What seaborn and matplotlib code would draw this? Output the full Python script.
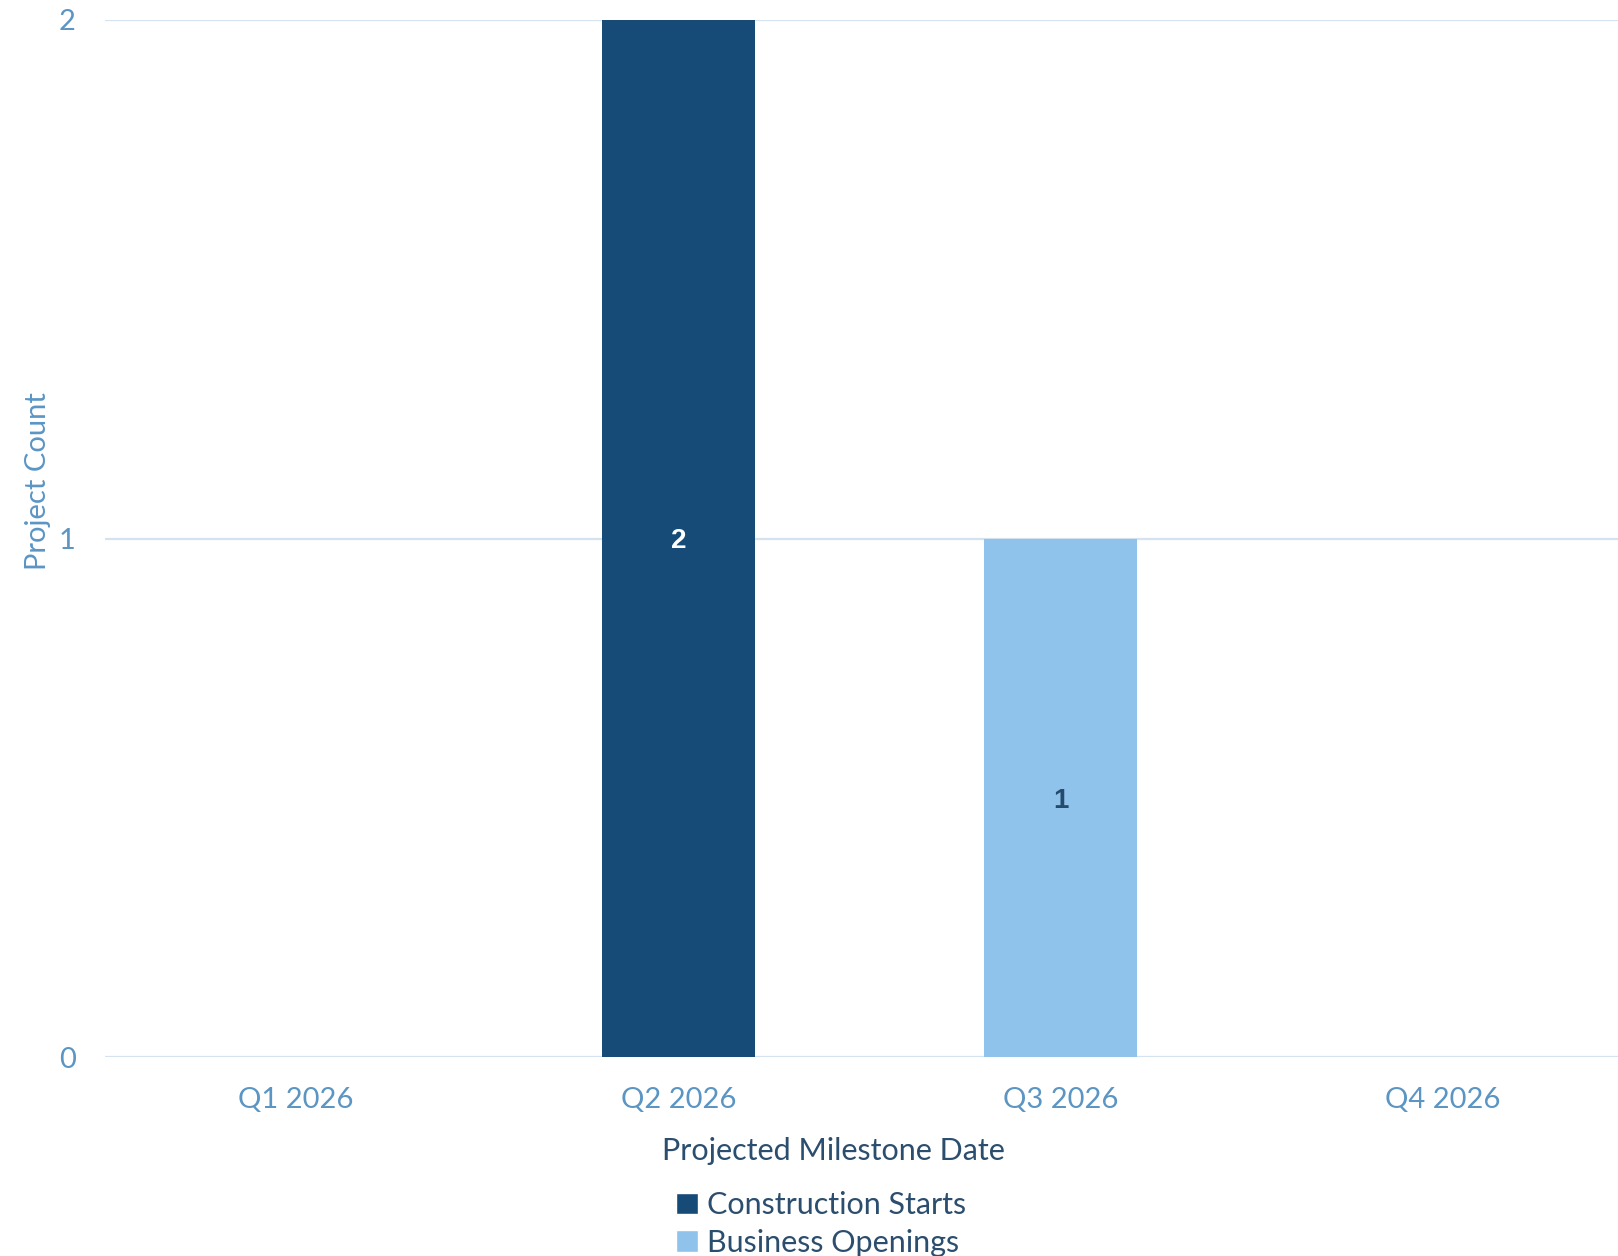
import matplotlib
matplotlib.use("Agg")
import matplotlib.pyplot as plt
import seaborn as sns
import pandas as pd
from matplotlib.patches import Patch

quarters = ["Q1 2026", "Q2 2026", "Q3 2026", "Q4 2026"]
construction_starts = [0, 2, 0, 0]
business_openings = [0, 0, 1, 0]
series_names = ["Construction Starts", "Business Openings"]
y_ticks = [0, 1, 2]

dark_blue = "#164B78"
light_blue = "#8FC3EC"
tick_color = "#5A95C4"
title_color = "#2C4E6E"
grid_color = "#D5E3F1"

sns.set_theme(style="white")
plt.rcParams["font.family"] = ["Lato", "DejaVu Sans"]

df = pd.DataFrame({
    "quarter": quarters * 2,
    "count": construction_starts + business_openings,
    "series": [series_names[0]] * 4 + [series_names[1]] * 4,
})

W, H = 1618, 1256
ax_left, ax_top, ax_bottom, ax_width = 105, 20, 1057, 1529
fig = plt.figure(figsize=(W / 100, H / 100), dpi=100)
ax = fig.add_axes([ax_left / W, 1 - ax_bottom / H, ax_width / W, (ax_bottom - ax_top) / H])

sns.barplot(data=df, x="quarter", y="count", hue="series",
            palette=[dark_blue, light_blue], dodge=False, width=0.40,
            saturation=1, linewidth=0, ax=ax, legend=False)

label_colors = ["white", "#244A6C"]
for cont, col in zip(ax.containers, label_colors):
    labels = [f"{int(v)}" if v > 0 else "" for v in cont.datavalues]
    texts = ax.bar_label(cont, labels=labels, label_type="center", color=col,
                         fontsize=20, fontweight="bold",
                         family=["Liberation Sans", "DejaVu Sans"])
    for t in texts:
        t.set_verticalalignment("center_baseline")

ax.set_ylim(0, 2)
ax.set_yticks(y_ticks)
ax.set_xlim(-0.5, 3.5)
ax.yaxis.grid(True, color=grid_color, linewidth=1.6)
ax.set_axisbelow(True)
for s in ax.spines.values():
    s.set_visible(False)

ax.tick_params(axis="both", length=0, labelsize=21, labelcolor=tick_color)
ax.tick_params(axis="x", pad=21.5)
ax.tick_params(axis="y", pad=21)

ax.set_xlabel("Projected Milestone Date", fontsize=22, color=title_color)
ax.xaxis.set_label_coords((833 - ax_left) / ax_width, -0.077)
ax.set_ylabel("Project Count", fontsize=21, color=tick_color)
ax.yaxis.set_label_coords(-0.035, 0.555)

handles = [Patch(facecolor=dark_blue, label=series_names[0]),
           Patch(facecolor=light_blue, label=series_names[1])]
leg = fig.legend(handles=handles, loc="center", bbox_to_anchor=(821 / W, 1 - 1224 / H),
                 ncol=1, frameon=False, fontsize=22, handlelength=0.7, handleheight=0.7,
                 handletextpad=0.3, labelspacing=0.3, borderpad=0)
for t in leg.get_texts():
    t.set_color(title_color)

fig.savefig("out.png", dpi=100)
